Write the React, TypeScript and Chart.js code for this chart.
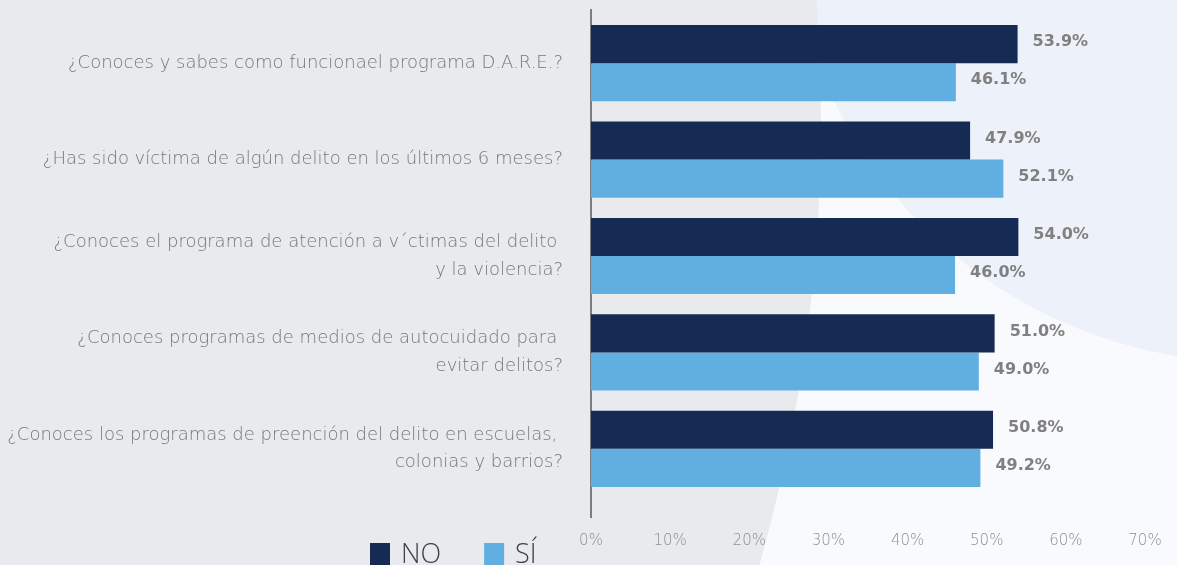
import React, { useEffect, useRef } from "react";
import { Chart, registerables } from "chart.js";

Chart.register(...registerables);

// ---- data ----
const categories: (string | string[])[] = [
  "¿Conoces y sabes como funcionael programa D.A.R.E.?",
  "¿Has sido víctima de algún delito en los últimos 6 meses?",
  ["¿Conoces el programa de atención a v´ctimas del delito ", "y la violencia?"],
  ["¿Conoces programas de medios de autocuidado para ", "evitar delitos?"],
  ["¿Conoces los programas de preención del delito en escuelas, ", "colonias y barrios?"],
];
const seriesNames = ["NO", "SÍ"];
const noValues = [53.9, 47.9, 54.0, 51.0, 50.8];
const siValues = [46.1, 52.1, 46.0, 49.0, 49.2];
const xMin = 0;
const xMax = 70;
const xStep = 10;

const COLORS = ["#162b53", "#61aee0"];

const backgroundPlugin = {
  id: "bgShapes",
  beforeDraw(chart: any) {
    const { ctx, width, height } = chart;
    ctx.save();
    ctx.fillStyle = "#f9fafd";
    ctx.fillRect(0, 0, width, height);
    ctx.fillStyle = "#edf1f9";
    ctx.beginPath();
    ctx.arc(1250, -100, 462, 0, Math.PI * 2);
    ctx.fill();
    ctx.fillStyle = "#e9eaee";
    ctx.beginPath();
    ctx.arc(-804, 122, 1625, 0, Math.PI * 2);
    ctx.fill();
    ctx.restore();
  },
};

const axisLinePlugin = {
  id: "axisLine",
  beforeDatasetsDraw(chart: any) {
    const { ctx, chartArea } = chart;
    const x = chart.scales.x.getPixelForValue(0);
    ctx.save();
    ctx.strokeStyle = "#7d7d7d";
    ctx.lineWidth = 2;
    ctx.beginPath();
    ctx.moveTo(x, chartArea.top - 6);
    ctx.lineTo(x, chartArea.bottom + 21);
    ctx.stroke();
    ctx.restore();
  },
};

const valueLabelPlugin = {
  id: "valueLabels",
  afterDatasetsDraw(chart: any) {
    const { ctx } = chart;
    ctx.save();
    ctx.font = "bold 16px 'DejaVu Sans'";
    ctx.fillStyle = "#808080";
    ctx.textAlign = "left";
    ctx.textBaseline = "middle";
    chart.data.datasets.forEach((ds: any, di: number) => {
      const meta = chart.getDatasetMeta(di);
      meta.data.forEach((el: any, i: number) => {
        const v = ds.data[i] as number;
        ctx.fillText(v.toFixed(1) + "%", el.x + 15, el.y - 2);
      });
    });
    ctx.restore();
  },
};

const customLegendPlugin = {
  id: "customLegend",
  afterDraw(chart: any) {
    const { ctx, chartArea } = chart;
    ctx.save();
    ctx.font = "300 27px 'Open Sans'";
    ctx.textBaseline = "top";
    ctx.textAlign = "left";
    let x = chartArea.left - 221;
    const y = 543;
    chart.data.datasets.forEach((ds: any) => {
      ctx.fillStyle = ds.backgroundColor;
      ctx.fillRect(x, y, 20, 26);
      ctx.fillStyle = "#3f3f46";
      ctx.fillText(ds.label, x + 31, y - 1);
      x += 31 + ctx.measureText(ds.label).width + 43;
    });
    ctx.restore();
  },
};

export default function App() {
  const canvasRef = useRef<HTMLCanvasElement | null>(null);

  useEffect(() => {
    if (!canvasRef.current) return;
    const chart = new Chart(canvasRef.current, {
      type: "bar",
      data: {
        labels: categories,
        datasets: [
          { label: seriesNames[0], data: noValues, backgroundColor: COLORS[0] },
          { label: seriesNames[1], data: siValues, backgroundColor: COLORS[1] },
        ],
      },
      options: {
        indexAxis: "y",
        animation: false,
        responsive: true,
        maintainAspectRatio: false,
        layout: { padding: { top: 15, right: 32, bottom: 0, left: 0 } },
        datasets: {
          bar: { barPercentage: 1, categoryPercentage: 0.79 },
        },
        plugins: {
          legend: { display: false },
          tooltip: { enabled: false },
        },
        scales: {
          x: {
            min: xMin,
            max: xMax,
            grid: { display: false, drawTicks: false },
            border: { display: false },
            ticks: {
              stepSize: xStep,
              padding: 35,
              color: "#8f8f8f",
              font: { family: "'DejaVu Sans'", size: 15, weight: "200" as any },
              callback: (v: any) => v + "%",
            },
            afterFit: (s: any) => {
              s.height = 68;
              s.paddingLeft = 0;
              s.paddingRight = 0;
            },
          },
          y: {
            grid: { display: false, drawTicks: false },
            border: { display: false },
            ticks: {
              padding: 28,
              color: "#777777",
              font: { family: "'DejaVu Sans'", size: 18, weight: "200" as any, lineHeight: 1.55 },
            },
            afterFit: (s: any) => {
              s.width = 591;
              s.paddingTop = 0;
              s.paddingBottom = 0;
            },
          },
        },
      },
      plugins: [backgroundPlugin, axisLinePlugin, valueLabelPlugin, customLegendPlugin],
    });
    return () => chart.destroy();
  }, []);

  return (
    <div style={{ position: "fixed", left: 0, top: 0, width: 1177, height: 565 }}>
      <canvas ref={canvasRef} />
    </div>
  );
}
